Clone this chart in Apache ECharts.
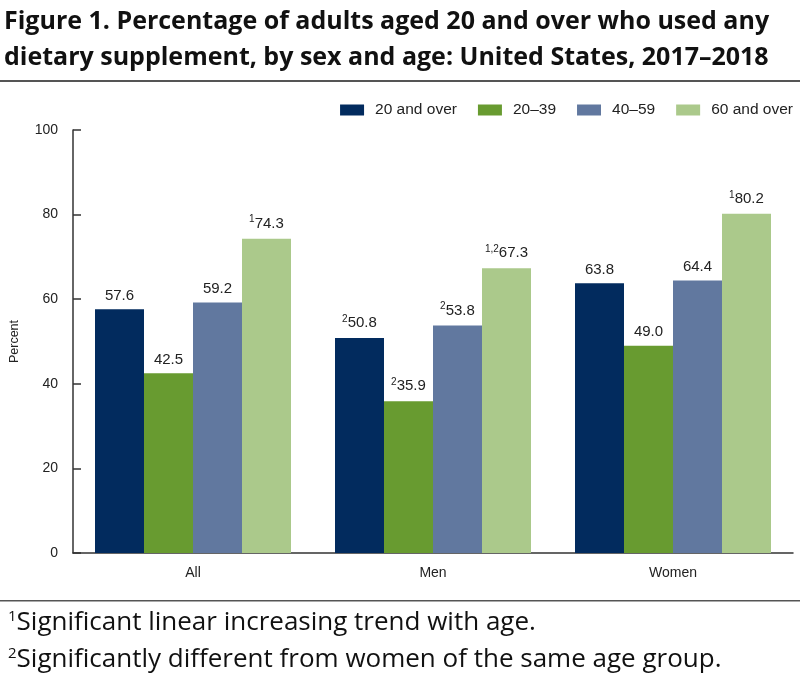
<!DOCTYPE html>
<html>
<head>
<meta charset="utf-8">
<script src="https://cdn.jsdelivr.net/npm/echarts@6/dist/echarts.min.js"></script>
<style>
html,body{margin:0;padding:0;background:#fff;}
#c{width:800px;height:676px;}
</style>
</head>
<body>
<div id="c"></div>
<script>
const categories = ['All', 'Men', 'Women'];
const seriesNames = ['20 and over', '20–39', '40–59', '60 and over'];
const s20over = [57.6, 50.8, 63.8];
const s20to39 = [42.5, 35.9, 49.0];
const s40to59 = [59.2, 53.8, 64.4];
const s60over = [74.3, 67.3, 80.2];
const notes20over = ['', '2', ''];
const notes20to39 = ['', '2', ''];
const notes40to59 = ['', '2', ''];
const notes60over = ['1', '1,2', '1'];
const yTicks = [0, 20, 40, 60, 80, 100];
const colors = ['#022b5e', '#689b30', '#61789f', '#abc98b'];

const chart = echarts.init(document.getElementById('c'));
const allValues = [s20over, s20to39, s40to59, s60over];
const allNotes = [notes20over, notes20to39, notes40to59, notes60over];

const labelFont = 'Liberation Sans, Arial, sans-serif';
const titleFont = '"Open Sans", "Noto Sans", sans-serif';
const series = seriesNames.map((name, i) => ({
  name,
  type: 'bar',
  barWidth: 49,
  barGap: '0%',
  itemStyle: { color: colors[i] },
  data: allValues[i],
  label: {
    show: true,
    position: 'top',
    distance: 6,
    formatter: (p) => {
      const n = allNotes[i][p.dataIndex];
      return (n ? '{sup|' + n + '}' : '') + '{v|' + p.value.toFixed(1) + '}';
    },
    rich: {
      v: { fontSize: 15, color: '#222', fontFamily: labelFont },
      sup: { fontSize: 10, color: '#222', fontFamily: labelFont, padding: [0, 0, 8, 0] }
    }
  }
}));

chart.setOption({
  animation: false,
  textStyle: { fontFamily: labelFont },
  grid: { left: 70, right: 7, top: 130, bottom: 123, containLabel: false },
  legend: {
    right: 2,
    top: 97,
    icon: 'rect',
    itemWidth: 24,
    itemHeight: 11,
    itemGap: 21,
    textStyle: { fontSize: 15.5, color: '#222', padding: [0, 0, 0, 6] },
    data: seriesNames
  },
  xAxis: {
    type: 'category',
    data: categories,
    axisLine: { lineStyle: { color: '#333', width: 1.5 } },
    axisTick: { show: false },
    axisLabel: { fontSize: 14, color: '#222', margin: 13 }
  },
  yAxis: {
    type: 'value',
    min: yTicks[0],
    max: yTicks[yTicks.length - 1],
    interval: 20,
    name: 'Percent',
    nameLocation: 'middle',
    nameGap: 52,
    nameTextStyle: { fontSize: 12.5, color: '#222' },
    axisLine: { show: true, lineStyle: { color: '#333', width: 1.5 } },
    axisTick: { show: true, inside: true, length: 8, lineStyle: { color: '#333', width: 1.5 } },
    axisLabel: { fontSize: 14, color: '#222', margin: 15 },
    splitLine: { show: false }
  },
  graphic: [
    { type: 'text', left: 4, top: 9, style: { text: 'Figure 1. Percentage of adults aged 20 and over who used any', font: 'bold 25px ' + titleFont, fill: '#111' } },
    { type: 'text', left: 4, top: 45, style: { text: 'dietary supplement, by sex and age: United States, 2017–2018', font: 'bold 25px ' + titleFont, fill: '#111' } },
    { type: 'rect', shape: { x: 0, y: 80, width: 800, height: 2 }, style: { fill: '#555' } },
    { type: 'rect', shape: { x: 0, y: 600, width: 800, height: 1.5 }, style: { fill: '#555' } },
    { type: 'text', left: 8, top: 609, style: { text: '{s|1}{t|Significant linear increasing trend with age.}', rich: { s: { fontSize: 15, fill: '#111', fontFamily: titleFont, padding: [0, 0, 12, 0] }, t: { fontSize: 26, fill: '#111', fontFamily: titleFont } } } },
    { type: 'text', left: 8, top: 646, style: { text: '{s|2}{t|Significantly different from women of the same age group.}', rich: { s: { fontSize: 15, fill: '#111', fontFamily: titleFont, padding: [0, 0, 12, 0] }, t: { fontSize: 26, fill: '#111', fontFamily: titleFont } } } }
  ],
  series
});
</script>
</body>
</html>
